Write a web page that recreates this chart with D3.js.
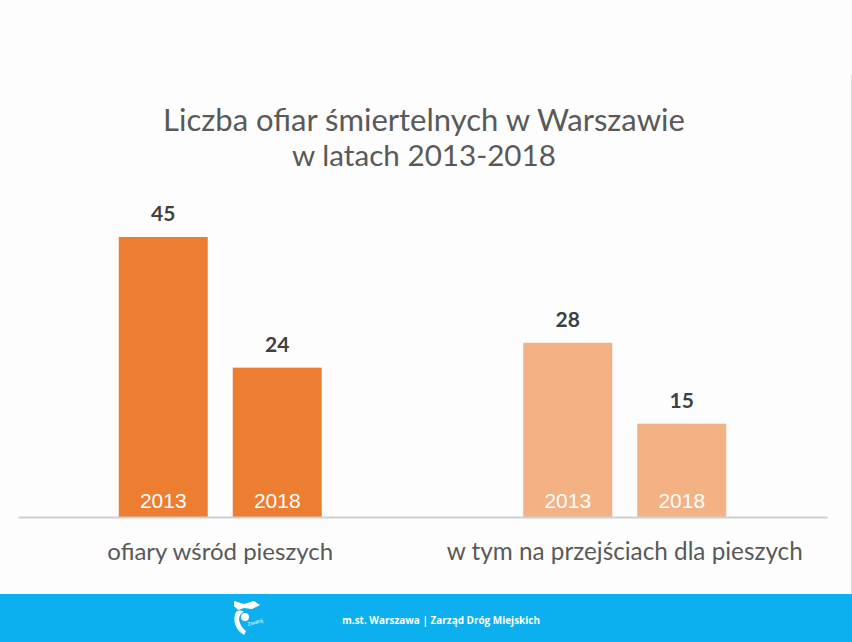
<!DOCTYPE html>
<html>
<head>
<meta charset="utf-8">
<script src="https://cdn.jsdelivr.net/npm/d3@7"></script>
<style>
  html, body { margin: 0; padding: 0; background: #fdfdfd; }
  svg { display: block; }
</style>
</head>
<body>
<svg id="chart" width="852" height="642"></svg>
<script>
// ---- data ----
const titleLines = ["Liczba ofiar śmiertelnych w Warszawie", "w latach 2013-2018"];
const categories = ["ofiary wśród pieszych", "w tym na przejściach dla pieszych"];
const years = ["2013", "2018"];
const values2013 = [45, 28];
const values2018 = [24, 15];
const categoryColors = ["#ed7d31", "#f4b183"];
const footerText = "m.st. Warszawa | Zarząd Dróg Miejskich";

// ---- layout ----
const W = 852, H = 642;
const svg = d3.select("#chart");
const baseY = 517;
const plotTop = 237;

// shrink/grow a text element's font so its width matches a target
function fitWidth(sel, target) {
  sel.each(function() {
    const fs = parseFloat(this.getAttribute("font-size"));
    const w = this.getComputedTextLength();
    if (w > 0) this.setAttribute("font-size", (fs * target / w).toFixed(2));
  });
}

svg.append("rect").attr("x", 0).attr("y", 0).attr("width", W).attr("height", H).attr("fill", "#fdfdfd");
// faint right edge line
svg.append("line").attr("x1", 851.5).attr("x2", 851.5).attr("y1", 75).attr("y2", 594)
  .attr("stroke", "#dcdcdc").attr("stroke-width", 1);

const x0 = d3.scaleBand().domain(categories).range([18, 827]).paddingInner(0).paddingOuter(0);
const x1 = d3.scaleBand().domain(years).range([0, 203]).paddingInner(25 / 114).paddingOuter(0);
const y = d3.scaleLinear().domain([0, 45]).range([baseY, plotTop]);

const rows = categories.map((c, i) => ({
  cat: c, color: categoryColors[i],
  bars: [{ year: years[0], v: values2013[i] }, { year: years[1], v: values2018[i] }]
}));

const g = svg.append("g");
const grp = g.selectAll("g.grp").data(rows).enter().append("g")
  .attr("class", "grp")
  .attr("transform", d => `translate(${x0(d.cat) + x0.bandwidth()/2 - 101.5},0)`);

const bar = grp.selectAll("g.bar").data(d => d.bars.map(b => ({...b, color: d.color}))).enter().append("g");
bar.append("rect")
  .attr("x", d => x1(d.year))
  .attr("width", x1.bandwidth())
  .attr("y", d => y(d.v))
  .attr("height", d => baseY - y(d.v))
  .attr("fill", d => d.color);
bar.append("text")
  .attr("x", d => x1(d.year) + x1.bandwidth()/2)
  .attr("y", d => y(d.v) - 16)
  .attr("text-anchor", "middle")
  .attr("font-family", "Lato, 'Open Sans', sans-serif")
  .attr("font-weight", "bold")
  .attr("font-size", 21)
  .attr("fill", "#404040")
  .text(d => d.v);
bar.append("text")
  .attr("x", d => x1(d.year) + x1.bandwidth()/2)
  .attr("y", baseY - 9)
  .attr("text-anchor", "middle")
  .attr("font-family", "'Liberation Sans', Arial, sans-serif")
  .attr("font-size", 21)
  .attr("fill", "#ffffff")
  .text(d => d.year);

// baseline axis
const axis = d3.axisBottom(x0).tickSize(0).tickPadding(26);
const ax = svg.append("g").attr("transform", `translate(0,${baseY})`).call(axis);
ax.select(".domain").attr("stroke", "#d0d0d0").attr("stroke-width", 2);
const labelWidths = [226, 356];
ax.selectAll("text")
  .attr("font-family", "Lato, 'Open Sans', sans-serif")
  .attr("font-size", 23)
  .attr("fill", "#595959")
  .each(function(d, i) { fitWidth(d3.select(this), labelWidths[i]); });

// title
const titleWidths = [522, 264];
svg.append("g").selectAll("text").data(titleLines).enter().append("text")
  .attr("x", 424)
  .attr("y", (d, i) => 131 + i * 35)
  .attr("text-anchor", "middle")
  .attr("font-family", "Lato, 'Open Sans', sans-serif")
  .attr("font-size", 28)
  .attr("fill", "#595959")
  .text(d => d)
  .each(function(d, i) { fitWidth(d3.select(this), titleWidths[i]); });

// footer
svg.append("rect").attr("x", 0).attr("y", 594).attr("width", W).attr("height", 48).attr("fill", "#0cb0ef");
svg.append("text").attr("x", 441).attr("y", 624).attr("text-anchor", "middle")
  .attr("font-family", "'Open Sans', sans-serif").attr("font-weight", "bold")
  .attr("font-size", 10).attr("fill", "#ffffff").text(footerText)
  .call(s => fitWidth(s, 198));

// logo (stylised)
const logo = svg.append("g").attr("transform", "translate(230,598)").attr("fill", "#ffffff");
logo.append("path").attr("d", "M4,3 L14,6 L24,3 L30,7 L22,11 L14,10 L8,12 L4,8 Z");
logo.append("path").attr("d", "M6,14 C3,20 4,28 10,34 L14,37 L16,33 C12,30 9,25 9,20 C10,16 12,14 14,14 C12,12 8,12 6,14 Z");
logo.append("circle").attr("cx", 15).attr("cy", 19).attr("r", 4);
logo.append("text").attr("x", 18).attr("y", 28).attr("font-size", 5).attr("font-family", "sans-serif")
  .attr("transform", "rotate(-15,18,28)").text("Zwolnij");
</script>
</body>
</html>
